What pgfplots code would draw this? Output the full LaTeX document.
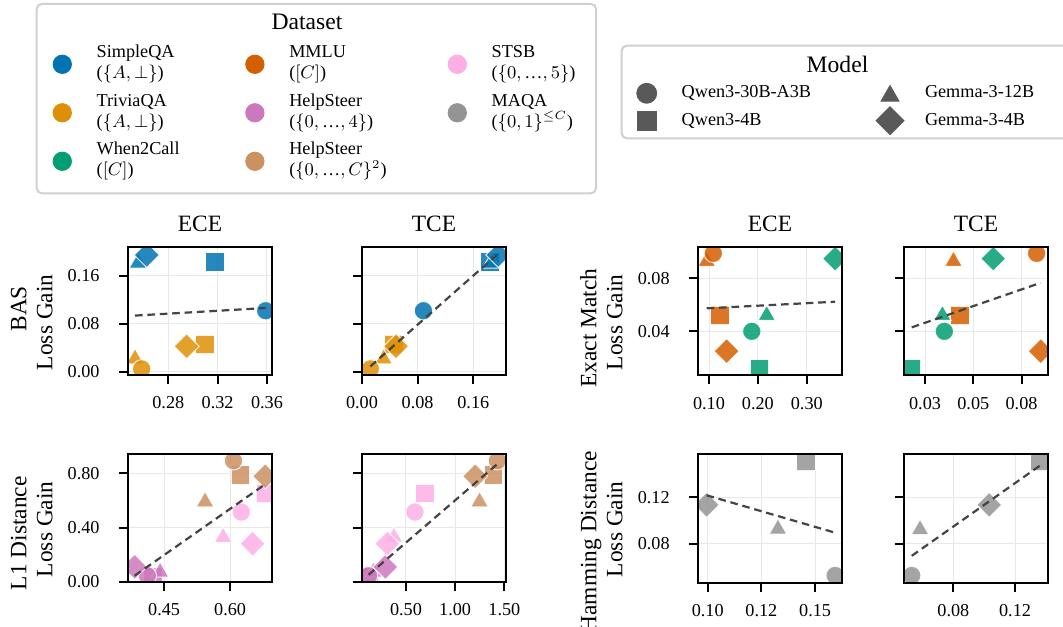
\documentclass[border=0pt]{standalone}
\usepackage{fontspec}
\setmainfont{Liberation Serif}
\usepackage{pgfplots}
\usepackage{pgfplotstable}
\pgfplotsset{compat=1.18}

\definecolor{cA}{HTML}{0173B2}
\definecolor{cB}{HTML}{DE8F05}
\definecolor{cC}{HTML}{029E73}
\definecolor{cD}{HTML}{D55E00}
\definecolor{cE}{HTML}{CC78BC}
\definecolor{cF}{HTML}{CA9161}
\definecolor{cG}{HTML}{FBAFE4}
\definecolor{cH}{HTML}{949494}
\definecolor{mgray}{HTML}{595959}
\definecolor{tline}{HTML}{444444}
\definecolor{lframe}{HTML}{D0D0D0}

\newcommand{\bigf}{\fontsize{11.7}{13}\selectfont}
\newcommand{\titf}{\fontsize{11.8}{13}\selectfont}
\newcommand{\smallf}{\fontsize{9.1}{10.5}\selectfont}
% two-line legend entry of fixed width and fixed height
\newcommand{\lentry}[3]{\makebox[#1pt][l]{\rule[-9.825pt]{0pt}{24.25pt}\parbox[c]{#1pt}{\baselineskip=10.5pt\lineskiplimit=-5pt\relax #2\\#3}}}
\newcommand{\mentry}[1]{\rule[-4.6pt]{0pt}{13.7pt}#1}
\newcommand{\dd}{\mbox{…}}
% a label line moved along the text direction (negative = down the page)
\newcommand{\yl}[2]{\makebox[0pt][c]{\kern -#2\relax #1}}

\pgfdeclareplotmark{D}{%
  \pgfpathmoveto{\pgfqpoint{0pt}{1.36\pgfplotmarksize}}%
  \pgfpathlineto{\pgfqpoint{1.36\pgfplotmarksize}{0pt}}%
  \pgfpathlineto{\pgfqpoint{0pt}{-1.36\pgfplotmarksize}}%
  \pgfpathlineto{\pgfqpoint{-1.36\pgfplotmarksize}{0pt}}%
  \pgfpathclose
  \pgfusepathqfillstroke}
\pgfdeclareplotmark{T}{%
  \pgfpathmoveto{\pgfqpoint{0pt}{0.83\pgfplotmarksize}}%
  \pgfpathlineto{\pgfqpoint{0.953\pgfplotmarksize}{-0.83\pgfplotmarksize}}%
  \pgfpathlineto{\pgfqpoint{-0.953\pgfplotmarksize}{-0.83\pgfplotmarksize}}%
  \pgfpathclose
  \pgfusepathqfillstroke}

\tikzset{mkst/.style 2 args={mark=#1, draw=white, fill=#2, fill opacity=0.85, draw opacity=0.85, line width=0.5pt, mark size=4.6pt}}

\pgfplotsset{
  myclasses/.style={scatter/classes={
    Ac={mkst={*}{cA}}, As={mkst={square*}{cA}}, At={mkst={T}{cA}}, Ad={mkst={D}{cA}},
    Bc={mkst={*}{cB}}, Bs={mkst={square*}{cB}}, Bt={mkst={T}{cB}}, Bd={mkst={D}{cB}},
    Cc={mkst={*}{cC}}, Cs={mkst={square*}{cC}}, Ct={mkst={T}{cC}}, Cd={mkst={D}{cC}},
    Dc={mkst={*}{cD}}, Ds={mkst={square*}{cD}}, Dt={mkst={T}{cD}}, Dd={mkst={D}{cD}},
    Ec={mkst={*}{cE}}, Es={mkst={square*}{cE}}, Et={mkst={T}{cE}}, Ed={mkst={D}{cE}},
    Fc={mkst={*}{cF}}, Fs={mkst={square*}{cF}}, Ft={mkst={T}{cF}}, Fd={mkst={D}{cF}},
    Gc={mkst={*}{cG}}, Gs={mkst={square*}{cG}}, Gt={mkst={T}{cG}}, Gd={mkst={D}{cG}},
    Hc={mkst={*}{cH}}, Hs={mkst={square*}{cH}}, Ht={mkst={T}{cH}}, Hd={mkst={D}{cH}}}},
  panel/.style={
    scale only axis, width=72pt, height=64.25pt, anchor=north west,
    axis line style={line width=1pt},
    tick align=outside, tick pos=left, major tick length=4.5pt,
    every tick/.style={black, line width=1pt},
    scaled ticks=false,
    grid=major, major grid style={line width=0.5pt, draw=black!9},
    tick label style={font=\smallf, inner sep=0pt},
    xticklabel style={yshift=-6pt},
    yticklabel style={xshift=-9.5pt},
    title style={font=\bigf, at={(0.5,1)}, anchor=base, yshift=1.5pt, inner sep=0pt},
    ylabel style={font=\bigf, align=center, at={(axis description cs:-0.5208,0.5)}, anchor=south, inner sep=0pt},
    clip marker paths=true,
    extra description/.code={\draw[line width=1pt] (0,0) rectangle (1,1);},
  },
  sc/.style={scatter, only marks, scatter src=explicit symbolic, myclasses},
  trend/.style={tline, line width=1.1pt, dash pattern=on 3.8pt off 2.4pt, no marks},
}

% ---- data: x y class (letter = dataset, suffix = model) ----
\pgfplotstableread{
x y c
0.318 0.183 As
0.3098 0.0455 Bs
0.2554 0.186 At
0.253 0.026 Bt
0.359 0.102 Ac
0.2584 0.005 Bc
0.2625 0.195 Ad
0.2949 0.0427 Bd
}\tA
\pgfplotstableread{
x y c
0.184 0.183 As
0.046 0.0455 Bs
0.186 0.186 At
0.031 0.026 Bt
0.0883 0.102 Ac
0.012 0.005 Bc
0.196 0.195 Ad
0.049 0.0427 Bd
}\tB
\pgfplotstableread{
x y c
0.1225 0.052 Ds
0.203 0.0117 Cs
0.0953 0.095 Dt
0.218 0.054 Ct
0.1088 0.099 Dc
0.1875 0.040 Cc
0.136 0.025 Dd
0.358 0.095 Cd
}\tC
\pgfplotstableread{
x y c
0.0456 0.052 Ds
0.0206 0.0117 Cs
0.0422 0.095 Dt
0.0365 0.054 Ct
0.0853 0.099 Dc
0.0375 0.040 Cc
0.0874 0.025 Dd
0.0628 0.095 Cd
}\tD
\pgfplotstableread{
x y c
0.425 0.035 Es
0.6236 0.788 Fs
0.68 0.65 Gs
0.441 0.09 Et
0.543 0.609 Ft
0.5841 0.347 Gt
0.412 0.045 Ec
0.6076 0.8925 Fc
0.6252 0.514 Gc
0.383 0.11 Ed
0.6796 0.778 Fd
0.6508 0.281 Gd
}\tE
\pgfplotstableread{
x y c
0.13 0.035 Es
1.387 0.788 Fs
0.693 0.65 Gs
0.17 0.09 Et
1.248 0.609 Ft
0.378 0.347 Gt
0.12 0.045 Ec
1.429 0.8925 Fc
0.591 0.514 Gc
0.29 0.11 Ed
1.204 0.778 Fd
0.31 0.281 Gd
}\tF
\pgfplotstableread{
x y c
0.1458 0.1503 Hs
0.1327 0.095 Ht
0.1593 0.053 Hc
0.0995 0.1134 Hd
}\tG
\pgfplotstableread{
x y c
0.1362 0.1503 Hs
0.0584 0.0945 Ht
0.053 0.053 Hc
0.1033 0.1134 Hd
}\tH

\begin{document}
\begin{tikzpicture}

% ---------- top row ----------
\begin{axis}[panel, at={(64pt,189.5pt)},
  xmin=0.2473, xmax=0.3641, ymin=-0.006, ymax=0.2083,
  xtick={0.28,0.32,0.36}, xticklabels={0.28,0.32,0.36},
  ytick={0,0.08,0.16}, yticklabels={0.00,0.08,0.16},
  title={ECE}, ylabel={\yl{BAS}{-2.5pt}\\\yl{Loss Gain}{11pt}}]
\addplot[sc] table[x=x,y=y,meta=c] {\tA};
\addplot[trend] coordinates {(0.253,0.0939) (0.359,0.1066)};
\end{axis}

\begin{axis}[panel, at={(181pt,189.5pt)},
  xmin=0, xmax=0.207, ymin=-0.006, ymax=0.2083,
  xtick={0,0.08,0.16}, xticklabels={0.00,0.08,0.16},
  ytick={0,0.08,0.16}, yticklabels={},
  title={TCE}]
\addplot[sc] table[x=x,y=y,meta=c] {\tB};
\addplot[trend] coordinates {(0.012,0.0092) (0.196,0.1974)};
\end{axis}

\begin{axis}[panel, at={(349pt,189.5pt)},
  xmin=0.0775, xmax=0.372, ymin=0.0066, ymax=0.1038,
  xtick={0.1,0.2,0.3}, xticklabels={0.10,0.20,0.30},
  ytick={0.04,0.08}, yticklabels={0.04,0.08},
  title={ECE}, ylabel={\yl{Exact Match}{17pt}\\\yl{Loss Gain}{11pt}}]
\addplot[sc] table[x=x,y=y,meta=c] {\tC};
\addplot[trend] coordinates {(0.0953,0.0574) (0.358,0.0624)};
\end{axis}

\begin{axis}[panel, at={(452pt,189.5pt)},
  xmin=0.0166, xmax=0.0912, ymin=0.0066, ymax=0.1038,
  xtick={0.0275,0.0525,0.0775}, xticklabels={0.03,0.05,0.08},
  ytick={0.04,0.08}, yticklabels={},
  title={TCE}]
\addplot[sc] table[x=x,y=y,meta=c] {\tD};
\addplot[trend] coordinates {(0.0206,0.0430) (0.0874,0.0767)};
\end{axis}

% ---------- bottom row ----------
\begin{axis}[panel, at={(64pt,86pt)},
  xmin=0.368, xmax=0.695, ymin=-0.005, ymax=0.942,
  xtick={0.45,0.6}, xticklabels={0.45,0.60},
  ytick={0,0.4,0.8}, yticklabels={0.00,0.40,0.80},
  ylabel={\yl{L1 Distance}{15pt}\\\yl{Loss Gain}{11pt}}]
\addplot[sc] table[x=x,y=y,meta=c] {\tE};
\addplot[trend] coordinates {(0.383,0.045) (0.68,0.72)};
\end{axis}

\begin{axis}[panel, at={(181pt,86pt)},
  xmin=0.053, xmax=1.517, ymin=-0.005, ymax=0.942,
  xtick={0.5,1,1.5}, xticklabels={0.50,1.00,1.50},
  ytick={0,0.4,0.8}, yticklabels={}]
\addplot[sc] table[x=x,y=y,meta=c] {\tF};
\addplot[trend] coordinates {(0.12,0.052) (1.44,0.875)};
\end{axis}

\begin{axis}[panel, at={(349pt,86pt)},
  xmin=0.0955, xmax=0.1625, ymin=0.047, ymax=0.1569,
  xtick={0.1,0.125,0.15}, xticklabels={0.10,0.12,0.15},
  ytick={0.08,0.12}, yticklabels={0.08,0.12},
  ylabel={\yl{Hamming Distance}{23.5pt}\\\yl{Loss Gain}{11pt}}]
\addplot[sc] table[x=x,y=y,meta=c] {\tG};
\addplot[trend] coordinates {(0.0995,0.1216) (0.1593,0.0896)};
\end{axis}

\begin{axis}[panel, at={(452pt,86pt)},
  xmin=0.048, xmax=0.1414, ymin=0.047, ymax=0.1569,
  xtick={0.08,0.12}, xticklabels={0.08,0.12},
  ytick={0.08,0.12}, yticklabels={}]
\addplot[sc] table[x=x,y=y,meta=c] {\tH};
\addplot[trend] coordinates {(0.053,0.0698) (0.1362,0.1470)};
\end{axis}

% ---------- Dataset legend ----------
\draw[rounded corners=2.5pt, line width=1pt, draw=lframe, fill=white] (18.35pt,216.35pt) rectangle (298pt,311pt);
\node[font=\titf, anchor=base] at (153.5pt,298.3pt) {Dataset};
\begin{axis}[hide axis, scale only axis, width=531.5pt, height=313pt, at={(0pt,0pt)}, anchor=south west,
  xmin=0, xmax=1, ymin=0, ymax=1,
  legend columns=3, legend cell align=left,
  legend style={at={(0.04920,0.93602)}, anchor=north west, draw=none, fill=none,
    inner sep=0pt, outer sep=0pt, font=\smallf, row sep=0pt, nodes={inner sep=0pt, text depth=},
    /tikz/every odd column/.append style={column sep=12.2pt}},
  legend image code/.code={\draw[overlay,#1] plot coordinates {(0pt,0pt)}; \path[draw=none,fill=none] (-5pt,-3pt) rectangle (5pt,3pt);}]
\addlegendimage{only marks, mark=*, mark size=4.6pt, cA}
\addlegendentry{\lentry{74.1}{SimpleQA}{($\{A, \perp\}$)}}
\addlegendimage{only marks, mark=*, mark size=4.6pt, cD}
\addlegendentry{\lentry{79}{MMLU}{($[C]$)}}
\addlegendimage{only marks, mark=*, mark size=4.6pt, cG}
\addlegendentry{\lentry{50}{STSB}{($\{0, \dd, 5\}$)}}
\addlegendimage{only marks, mark=*, mark size=4.6pt, cB}
\addlegendentry{\lentry{74.1}{TriviaQA}{($\{A, \perp\}$)}}
\addlegendimage{only marks, mark=*, mark size=4.6pt, cE}
\addlegendentry{\lentry{79}{HelpSteer}{($\{0, \dd, 4\}$)}}
\addlegendimage{only marks, mark=*, mark size=4.6pt, cH}
\addlegendentry{\lentry{50}{MAQA}{($\{0, 1\}^{\leq C}$)}}
\addlegendimage{only marks, mark=*, mark size=4.6pt, cC}
\addlegendentry{\lentry{74.1}{When2Call}{($[C]$)}}
\addlegendimage{only marks, mark=*, mark size=4.6pt, cF}
\addlegendentry{\lentry{79}{HelpSteer}{($\{0, \dd, C\}^2$)}}
\end{axis}

% ---------- Model legend ----------
\draw[rounded corners=2.5pt, line width=1pt, draw=lframe, fill=white] (310.85pt,243.85pt) rectangle (545pt,290.15pt);
\node[font=\titf, anchor=base] at (418.75pt,276.67pt) {Model};
\begin{axis}[hide axis, scale only axis, width=531.5pt, height=313pt, at={(0pt,0pt)}, anchor=south west,
  xmin=0, xmax=1, ymin=0, ymax=1,
  legend columns=2, legend cell align=left,
  legend style={at={(0.59897,0.87284)}, anchor=north west, draw=none, fill=none,
    inner sep=0pt, outer sep=0pt, font=\smallf, row sep=0pt, nodes={inner sep=0pt, text depth=},
    /tikz/every odd column/.append style={column sep=12.5pt}},
  legend image code/.code={\draw[overlay,#1] plot coordinates {(0pt,0pt)}; \path[draw=none,fill=none] (-5pt,-3pt) rectangle (5pt,3pt);}]
\addlegendimage{only marks, mark=*, mark size=5pt, mgray}
\addlegendentry{\makebox[99.15pt][l]{\mentry{Qwen3-30B-A3B}}}
\addlegendimage{only marks, mark=T, mark size=4.72pt, mgray}
\addlegendentry{\mentry{Gemma-3-12B}}
\addlegendimage{only marks, mark=square*, mark size=4.75pt, mgray}
\addlegendentry{\makebox[99.15pt][l]{\mentry{Qwen3-4B}}}
\addlegendimage{only marks, mark=D, mark size=5.15pt, mgray}
\addlegendentry{\mentry{Gemma-3-4B}}
\end{axis}

\pgfresetboundingbox
\useasboundingbox (0pt,0pt) rectangle (531.5pt,313pt);
\end{tikzpicture}
\end{document}
